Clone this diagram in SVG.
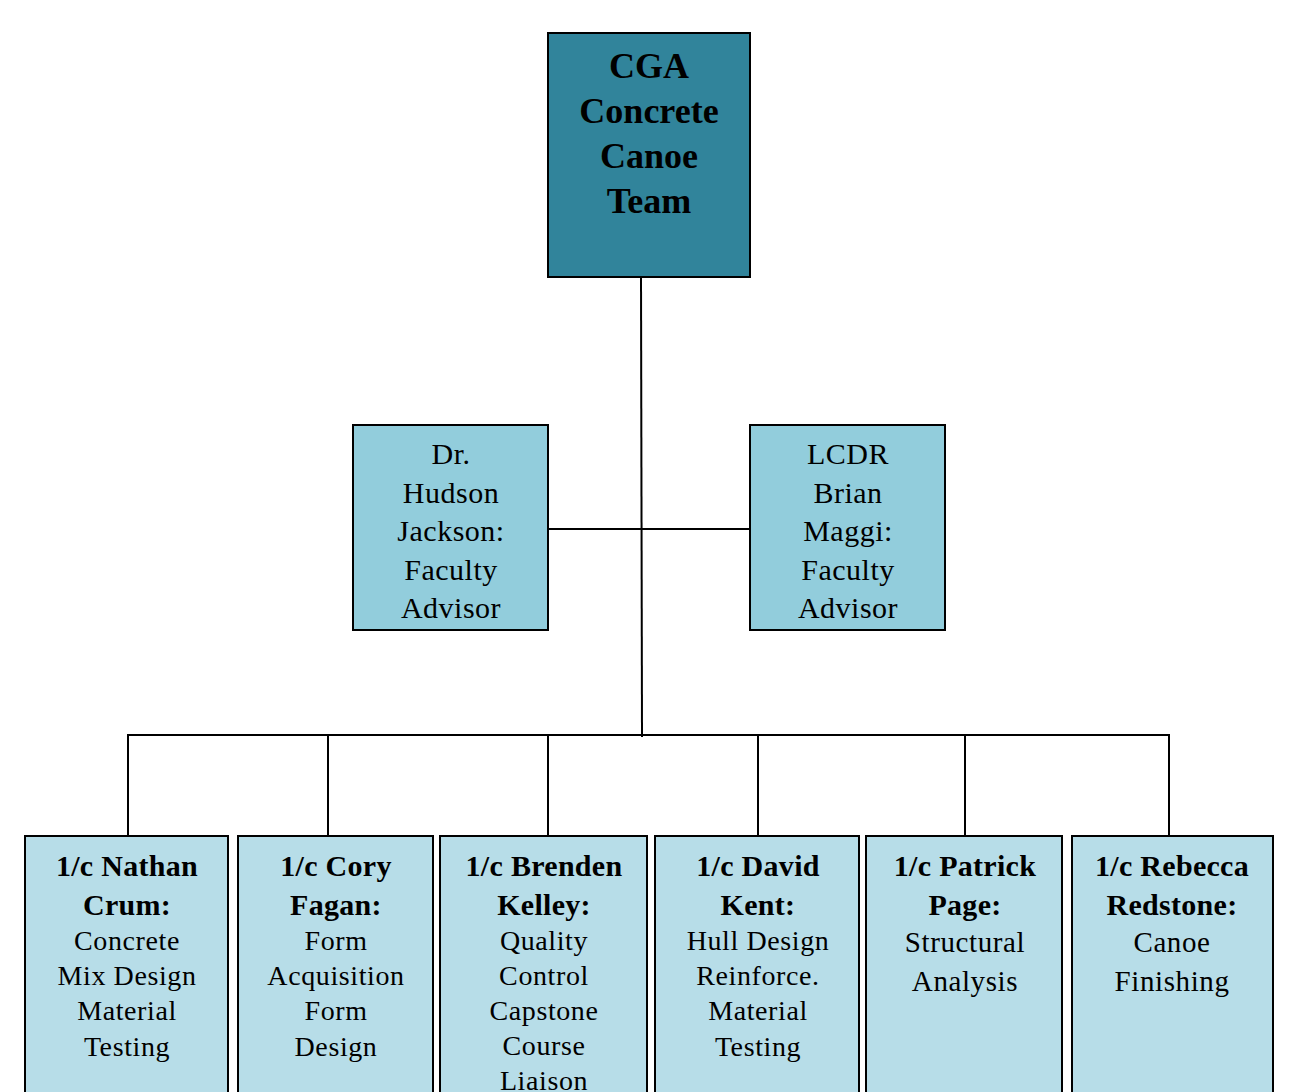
<svg xmlns="http://www.w3.org/2000/svg" width="1293" height="1092" viewBox="0 0 1293 1092">
<style>
text{font-family:"Liberation Serif","Times New Roman",serif;text-anchor:middle;fill:#000}
.top{font-size:36px;font-weight:bold}
.adv{font-size:30px;letter-spacing:0.5px}
.nm{font-size:30px;font-weight:bold;letter-spacing:0.3px}
.rl{font-size:28px;letter-spacing:0.6px}
.rl2{font-size:29px;letter-spacing:0.6px}
rect{stroke:#000;stroke-width:2}
.c1{fill:#31849B}
.c2{fill:#92CDDC}
.c3{fill:#B7DDE8}
</style>
<g id="connectors" fill="none" stroke="#000" stroke-width="2">
<path d="M641 277 L642 737"/>
<path d="M548 529 H750"/>
<path d="M128 836 V735 H1169 V836"/>
<path d="M328 735 V836"/>
<path d="M548 735 V836"/>
<path d="M758 735 V836"/>
<path d="M965 735 V836"/>
</g>
<g id="cga">
<rect class="c1" x="548" y="33" width="202" height="244"/>
<text class="top" x="649" y="78">CGA</text>
<text class="top" x="649" y="123">Concrete</text>
<text class="top" x="649" y="168">Canoe</text>
<text class="top" x="649" y="213">Team</text>
</g>
<g id="jackson">
<rect class="c2" x="353" y="425" width="195" height="205"/>
<text class="adv" x="451" y="464">Dr.</text>
<text class="adv" x="451" y="503">Hudson</text>
<text class="adv" x="451" y="541">Jackson:</text>
<text class="adv" x="451" y="580">Faculty</text>
<text class="adv" x="451" y="618">Advisor</text>
</g>
<g id="maggi">
<rect class="c2" x="750" y="425" width="195" height="205"/>
<text class="adv" x="848" y="464">LCDR</text>
<text class="adv" x="848" y="503">Brian</text>
<text class="adv" x="848" y="541">Maggi:</text>
<text class="adv" x="848" y="580">Faculty</text>
<text class="adv" x="848" y="618">Advisor</text>
</g>
<g id="crum">
<rect class="c3" x="25" y="836" width="203" height="270"/>
<text class="nm" x="127" y="876">1/c Nathan</text>
<text class="nm" x="127" y="915">Crum:</text>
<text class="rl" x="127" y="950">Concrete</text>
<text class="rl" x="127" y="985">Mix Design</text>
<text class="rl" x="127" y="1020">Material</text>
<text class="rl" x="127" y="1056">Testing</text>
</g>
<g id="fagan">
<rect class="c3" x="238" y="836" width="195" height="270"/>
<text class="nm" x="336" y="876">1/c Cory</text>
<text class="nm" x="336" y="915">Fagan:</text>
<text class="rl" x="336" y="950">Form</text>
<text class="rl" x="336" y="985">Acquisition</text>
<text class="rl" x="336" y="1020">Form</text>
<text class="rl" x="336" y="1056">Design</text>
</g>
<g id="kelley">
<rect class="c3" x="440" y="836" width="207" height="270"/>
<text class="nm" x="544" y="876">1/c Brenden</text>
<text class="nm" x="544" y="915">Kelley:</text>
<text class="rl" x="544" y="950">Quality</text>
<text class="rl" x="544" y="985">Control</text>
<text class="rl" x="544" y="1020">Capstone</text>
<text class="rl" x="544" y="1055">Course</text>
<text class="rl" x="544" y="1090">Liaison</text>
</g>
<g id="kent">
<rect class="c3" x="655" y="836" width="204" height="270"/>
<text class="nm" x="758" y="876">1/c David</text>
<text class="nm" x="758" y="915">Kent:</text>
<text class="rl" x="758" y="950">Hull Design</text>
<text class="rl" x="758" y="985">Reinforce.</text>
<text class="rl" x="758" y="1020">Material</text>
<text class="rl" x="758" y="1056">Testing</text>
</g>
<g id="page">
<rect class="c3" x="866" y="836" width="196" height="270"/>
<text class="nm" x="965" y="876">1/c Patrick</text>
<text class="nm" x="965" y="915">Page:</text>
<text class="rl2" x="965" y="952">Structural</text>
<text class="rl2" x="965" y="991">Analysis</text>
</g>
<g id="redstone">
<rect class="c3" x="1072" y="836" width="201" height="270"/>
<text class="nm" x="1172" y="876">1/c Rebecca</text>
<text class="nm" x="1172" y="915">Redstone:</text>
<text class="rl2" x="1172" y="952">Canoe</text>
<text class="rl2" x="1172" y="991">Finishing</text>
</g>
</svg>
